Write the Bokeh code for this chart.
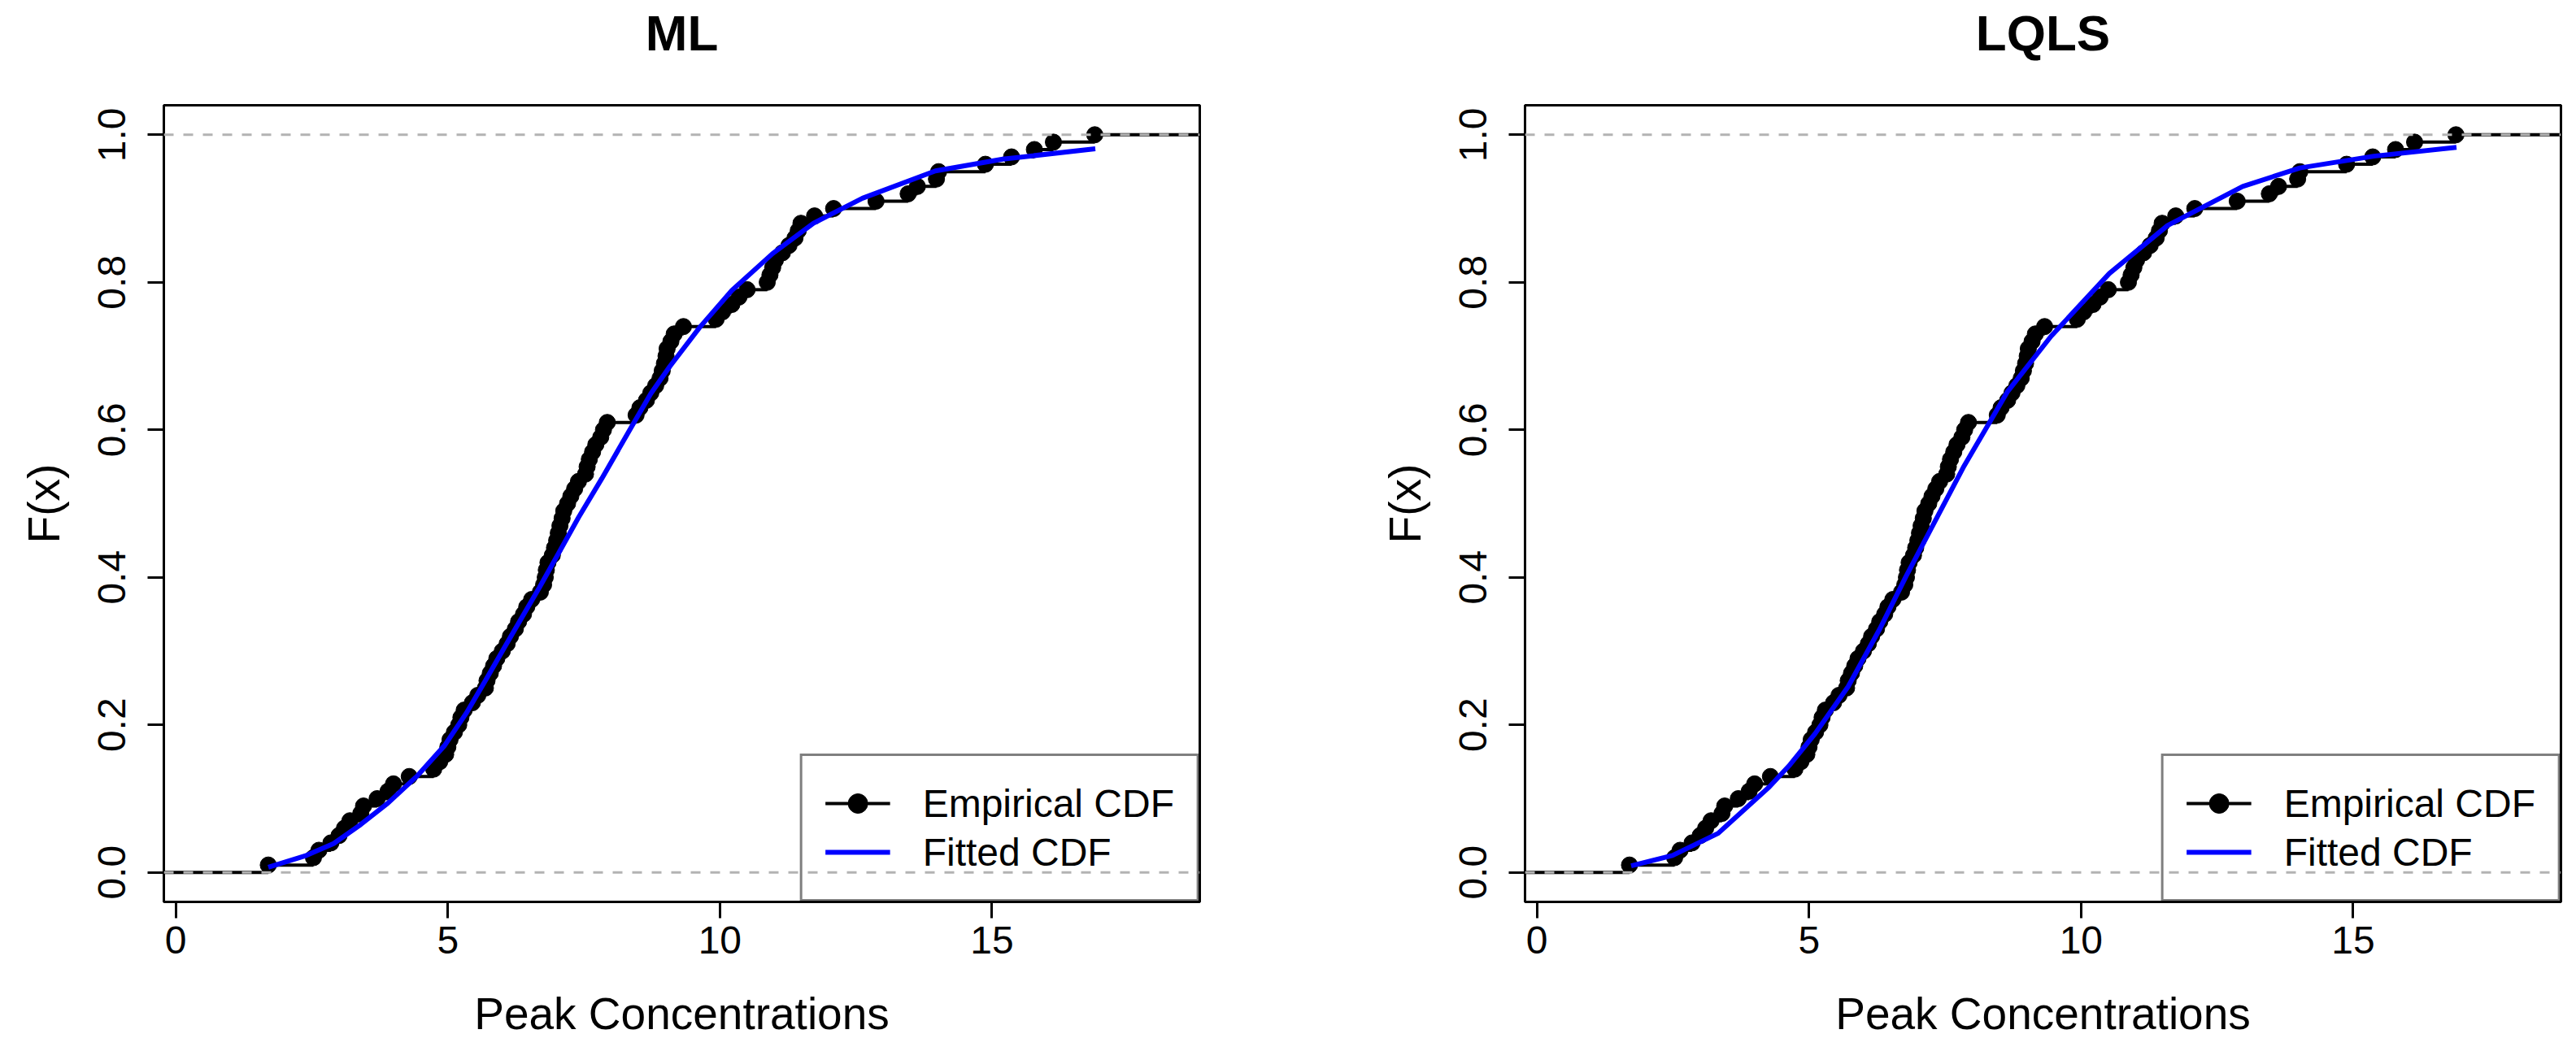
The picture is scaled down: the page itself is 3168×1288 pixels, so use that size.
import numpy as np
from bokeh.plotting import figure
from bokeh.layouts import row
from bokeh.models import (Range1d, FixedTicker, PrintfTickFormatter, Legend,
                          LegendItem, Span, LinearAxis)
from bokeh.embed import file_html
from bokeh.resources import INLINE

# ---------------- data ----------------
peak_conc = [1.70, 2.53, 2.63, 2.85, 3.00, 3.10, 3.20, 3.40, 3.45, 3.70,
             3.90, 4.00, 4.29, 4.74, 4.85, 4.96, 5.00, 5.04, 5.12, 5.20,
             5.24, 5.30, 5.45, 5.55, 5.69, 5.72, 5.78, 5.84, 5.90, 6.00,
             6.09, 6.15, 6.24, 6.30, 6.39, 6.45, 6.54, 6.70, 6.76, 6.79,
             6.81, 6.84, 6.92, 6.96, 7.00, 7.03, 7.06, 7.10, 7.13, 7.20,
             7.26, 7.33, 7.40, 7.53, 7.56, 7.60, 7.66, 7.72, 7.81, 7.86,
             7.93, 8.46, 8.53, 8.65, 8.73, 8.82, 8.90, 8.94, 8.98, 9.01,
             9.03, 9.10, 9.16, 9.33, 9.93, 10.05, 10.22, 10.35, 10.50, 10.87,
             10.92, 10.97, 11.02, 11.15, 11.27, 11.38, 11.44, 11.49, 11.74, 12.09,
             12.87, 13.46, 13.63, 13.98, 14.02, 14.88, 15.36, 15.78, 16.13, 16.89]

ml_fit_x = [1.70, 2.40, 2.90, 3.40, 3.90, 4.44, 4.94, 5.34, 5.69, 6.04,
            6.68, 7.03, 7.40, 7.83, 8.43, 8.73, 9.08, 9.63, 10.22, 10.97,
            11.72, 12.62, 13.96, 15.20, 16.90]
ml_fit_F = [0.007, 0.023, 0.039, 0.065, 0.094, 0.131, 0.172, 0.216, 0.260, 0.305,
            0.386, 0.432, 0.481, 0.534, 0.611, 0.649, 0.686, 0.739, 0.789, 0.839,
            0.880, 0.914, 0.951, 0.967, 0.981]

lqls_fit_x = [1.73, 2.49, 3.33, 4.27, 4.65, 5.11, 5.72, 6.30, 6.78, 7.85,
              8.65, 9.45, 10.52, 11.59, 12.97, 14.02, 15.38, 16.90]
lqls_fit_F = [0.009, 0.023, 0.053, 0.116, 0.146, 0.188, 0.252, 0.330, 0.401, 0.551,
              0.652, 0.727, 0.812, 0.877, 0.930, 0.955, 0.971, 0.983]

titles = ["ML", "LQLS"]
x_ticks = [0, 5, 10, 15]
y_ticks = [0.0, 0.2, 0.4, 0.6, 0.8, 1.0]
x_label = "Peak Concentrations"
y_label = "F(x)"
legend_labels = ["Empirical CDF", "Fitted CDF"]

XLIM = (-0.22, 18.82)
YLIM = (-0.04, 1.04)
FONT = "Liberation Sans"

n = len(peak_conc)
ecdf_F = list(np.arange(1, n + 1) / n)

FRAME_W, FRAME_H = 1274, 980
TOP_B, BOT_B = 129, 171


def make_panel(title, fit_x, fit_F, left_border, right_border):
    p = figure(width=left_border + FRAME_W + right_border,
               height=TOP_B + FRAME_H + BOT_B,
               x_range=Range1d(*XLIM), y_range=Range1d(*YLIM),
               output_backend="svg", toolbar_location=None,
               min_border_left=left_border, min_border_right=right_border,
               min_border_top=TOP_B, min_border_bottom=BOT_B)
    p.grid.visible = False
    p.background_fill_color = "white"
    p.border_fill_color = "white"
    p.outline_line_color = "black"
    p.outline_line_width = 3
    p.title.text = ""

    xa = p.below[0]
    ya = p.left[0]
    for ax, ticks, lbl in ((xa, x_ticks, x_label), (ya, y_ticks, y_label)):
        ax.ticker = FixedTicker(ticks=ticks)
        ax.bounds = (ticks[0], ticks[-1])
        ax.axis_label = lbl
        ax.axis_label_text_font = FONT
        ax.axis_label_text_font_size = "55px"
        ax.axis_label_text_font_style = "normal"
        ax.axis_label_text_color = "black"
        ax.major_label_text_font = FONT
        ax.major_label_text_font_size = "48px"
        ax.major_label_text_color = "black"
        ax.axis_line_width = 3
        ax.major_tick_line_width = 3
        ax.major_tick_out = 20
        ax.major_tick_in = 0
        ax.minor_tick_line_color = None
    xa.major_label_standoff = 10
    xa.axis_label_standoff = 40
    ya.formatter = PrintfTickFormatter(format="%.1f")
    ya.major_label_orientation = "vertical"
    ya.major_label_standoff = 27
    ya.axis_label_standoff = 34

    # panel title: label of a tick-less axis above the frame
    tax = LinearAxis(ticker=FixedTicker(ticks=[]), axis_label=title,
                     axis_line_color=None, major_tick_line_color=None,
                     minor_tick_line_color=None, major_tick_out=0, major_tick_in=0,
                     minor_tick_out=0, minor_tick_in=0, major_label_standoff=0,
                     major_label_text_font_size="1px",
                     axis_label_standoff=55, axis_label_text_font=FONT,
                     axis_label_text_font_size="62px", axis_label_text_font_style="bold",
                     axis_label_text_color="black")
    p.add_layout(tax, "above")

    # empirical CDF: horizontal steps (no verticals) + points
    x0 = [XLIM[0]] + peak_conc
    x1 = peak_conc + [XLIM[1]]
    yy = [0.0] + ecdf_F
    seg = p.segment(x0=x0, x1=x1, y0=yy, y1=yy, line_color="black", line_width=4)
    pts = p.scatter(peak_conc, ecdf_F, size=20, color="black")

    for loc in (0.0, 1.0):
        p.add_layout(Span(location=loc, dimension="width", line_color="#b3b3b3",
                          line_width=3, line_dash="12 12"))

    fit = p.line(fit_x, fit_F, line_color="blue", line_width=6)

    legend = Legend(items=[LegendItem(label=legend_labels[0], renderers=[seg, pts]),
                           LegendItem(label=legend_labels[1], renderers=[fit])],
                    location="bottom_right", margin=0, padding=28, spacing=0,
                    label_height=60, glyph_height=60, glyph_width=80,
                    label_standoff=40, border_line_color="black",
                    border_line_width=3, background_fill_alpha=0,
                    label_text_font=FONT, label_text_font_size="48px",
                    label_text_color="black")
    p.add_layout(legend, "center")
    return p


p1 = make_panel(titles[0], ml_fit_x, ml_fit_F, 201, 199)
p2 = make_panel(titles[1], lqls_fit_x, lqls_fit_F, 201, 15)
layout = row(p1, p2)

open("out.html", "w").write(file_html(layout, INLINE))
